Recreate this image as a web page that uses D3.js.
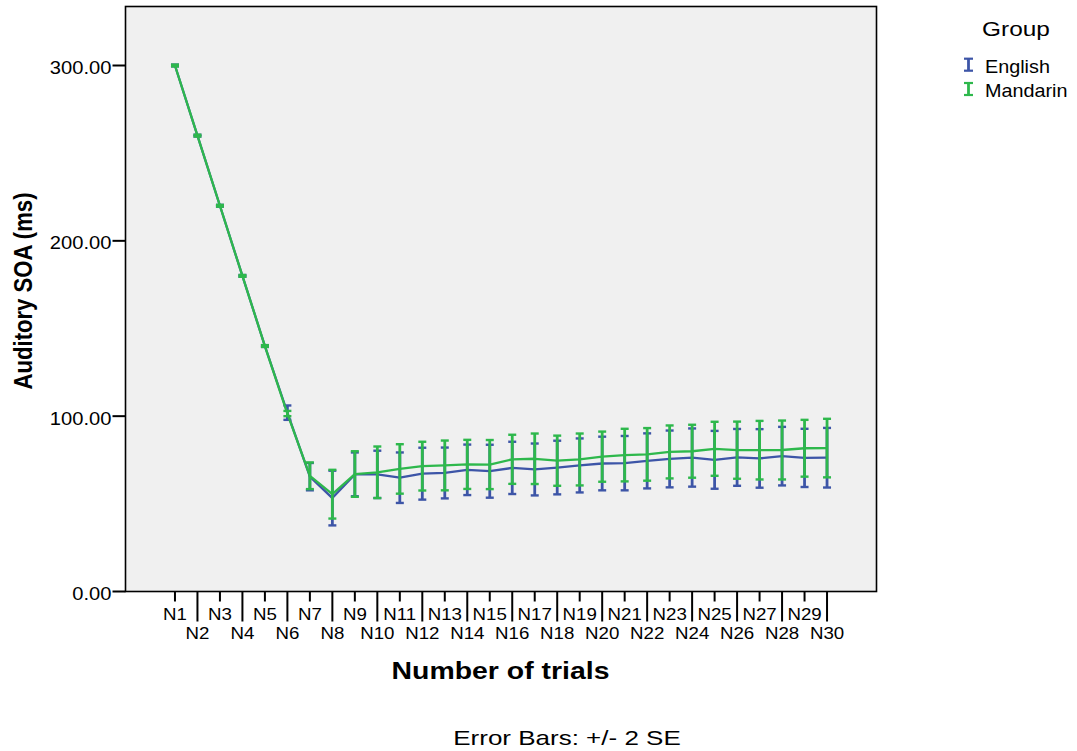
<!DOCTYPE html>
<html><head><meta charset="utf-8">
<script src="https://cdn.jsdelivr.net/npm/d3@7/dist/d3.min.js"></script>
<style>html,body{margin:0;padding:0;background:#fff;}svg{display:block;}text{font-family:"Liberation Sans",Arial,sans-serif;fill:#000;}</style>
</head><body><svg id="c" width="1077" height="751"></svg>
<script>
const categories = d3.range(1, 31).map(i => "N" + i);
const groups = ["English", "Mandarin"];
const englishMean = [300,260,220,180,140,102,65.5,53.3,66.8,66.8,64.9,67.2,67.6,69.4,68.6,70.5,69.6,70.7,71.9,73.0,73.2,74.5,75.6,76.4,75.1,76.5,75.9,77.2,76.2,76.3];
const englishErr  = [0.5,0.5,0.5,0.5,0.5,4.1,7.8,15.6,12.5,13.5,14.4,14.8,14.5,14.4,15.1,14.9,14.8,15.3,15.4,15.3,15.5,15.7,16.2,16.6,16.5,16.2,16.7,16.7,16.6,17.0];
const mandarinMean = [300,260,220,180,140,101.5,66,55.5,67,68.0,69.9,71.5,71.9,72.5,72.4,75.4,75.7,74.6,75.3,76.9,77.8,78.2,79.6,80.0,81.4,80.6,80.6,80.7,81.7,81.8];
const mandarinErr  = [0.5,0.5,0.5,0.5,0.5,1.5,7.6,13.9,13.0,14.7,14.1,13.9,14.2,14.0,14.0,14.0,14.4,14.3,14.8,14.3,15.0,15.0,15.1,15.1,15.4,16.3,16.7,16.8,16.2,16.7];
const yTicks = [0, 100, 200, 300];
const colors = {English: "#3d55a7", Mandarin: "#2eb84c"};

const series = [
  {name: "English", mean: englishMean, err: englishErr},
  {name: "Mandarin", mean: mandarinMean, err: mandarinErr}
];

const svg = d3.select("#c");
const L = 125.5, R = 876.5, T = 6.5, B = 591.5;
const x = d3.scalePoint().domain(categories).range([L, R]).padding(2.2);
const y = d3.scaleLinear().domain([0, 300]).range([B, 65.5]);

// plot background
svg.append("rect").attr("x", L).attr("y", T).attr("width", R - L).attr("height", B - T)
  .attr("fill", "#f0f0f0").attr("stroke", "none");

// helper for stretched text
function stext(g, str, tx, ty, size, sx, anchor, weight) {
  return g.append("text").attr("transform", `translate(${tx},${ty}) scale(${sx},1)`)
    .attr("text-anchor", anchor || "start").attr("font-size", size)
    .attr("font-weight", weight || "normal").text(str);
}

// series
const line = d3.line().x((d, i) => x(categories[i])).y(d => y(d));
series.forEach(s => {
  const g = svg.append("g");
  g.append("path").datum(s.mean).attr("d", line).attr("fill", "none")
    .attr("stroke", colors[s.name]).attr("stroke-width", 2.3).attr("stroke-linejoin", "round");
  const eb = g.selectAll("g.eb").data(s.mean.map((m, i) => ({c: categories[i], m, e: s.err[i]})))
    .join("g").attr("class", "eb");
  eb.append("line").attr("x1", d => x(d.c)).attr("x2", d => x(d.c))
    .attr("y1", d => y(d.m + d.e)).attr("y2", d => y(d.m - d.e))
    .attr("stroke", colors[s.name]).attr("stroke-width", 2.8);
  [1, -1].forEach(sign => {
    eb.append("line").attr("x1", d => x(d.c) - 4).attr("x2", d => x(d.c) + 4)
      .attr("y1", d => y(d.m + sign * d.e)).attr("y2", d => y(d.m + sign * d.e))
      .attr("stroke", colors[s.name]).attr("stroke-width", 2.4);
  });
});

// frame
svg.append("rect").attr("x", L).attr("y", T).attr("width", R - L).attr("height", B - T)
  .attr("fill", "none").attr("stroke", "#000").attr("stroke-width", 1.6);

// y axis
const ya = svg.append("g");
yTicks.forEach(v => {
  ya.append("line").attr("x1", L - 13).attr("x2", L).attr("y1", y(v)).attr("y2", y(v))
    .attr("stroke", "#000").attr("stroke-width", 2);
  stext(ya, d3.format(".2f")(v), L - 14, y(v) + 8.5, 18, 1.12, "end");
});

// x axis
const xa = svg.append("g");
categories.forEach((c, i) => {
  const odd = i % 2 === 0;
  xa.append("line").attr("x1", x(c)).attr("x2", x(c)).attr("y1", B).attr("y2", odd ? B + 10 : B + 30)
    .attr("stroke", "#000").attr("stroke-width", 2);
  stext(xa, c, x(c), odd ? 620 : 638.5, 17, 1.1, "middle");
});

// titles
stext(svg, "Number of trials", 500.5, 679.3, 23, 1.236, "middle", "bold");
stext(svg, "Error Bars: +/- 2 SE", 567, 745.3, 20, 1.3, "middle");
svg.append("text").attr("transform", "translate(31.5,291) rotate(-90) scale(0.885,1)")
  .attr("text-anchor", "middle").attr("font-size", 25).attr("font-weight", "bold")
  .text("Auditory SOA (ms)");

// legend
const lg = svg.append("g");
stext(lg, "Group", 1016, 36, 20, 1.22, "middle");
groups.forEach((gname, i) => {
  const cy = 64.7 + i * 24.3;
  const cx = 968.5;
  lg.append("line").attr("x1", cx).attr("x2", cx).attr("y1", cy - 6).attr("y2", cy + 6)
    .attr("stroke", colors[gname]).attr("stroke-width", 2.8);
  [-6, 6].forEach(d => lg.append("line").attr("x1", cx - 4.5).attr("x2", cx + 4.5)
    .attr("y1", cy + d).attr("y2", cy + d).attr("stroke", colors[gname]).attr("stroke-width", 2.2));
  stext(lg, gname, 985, cy + 8, 18, 1.1, "start");
});
</script></body></html>
